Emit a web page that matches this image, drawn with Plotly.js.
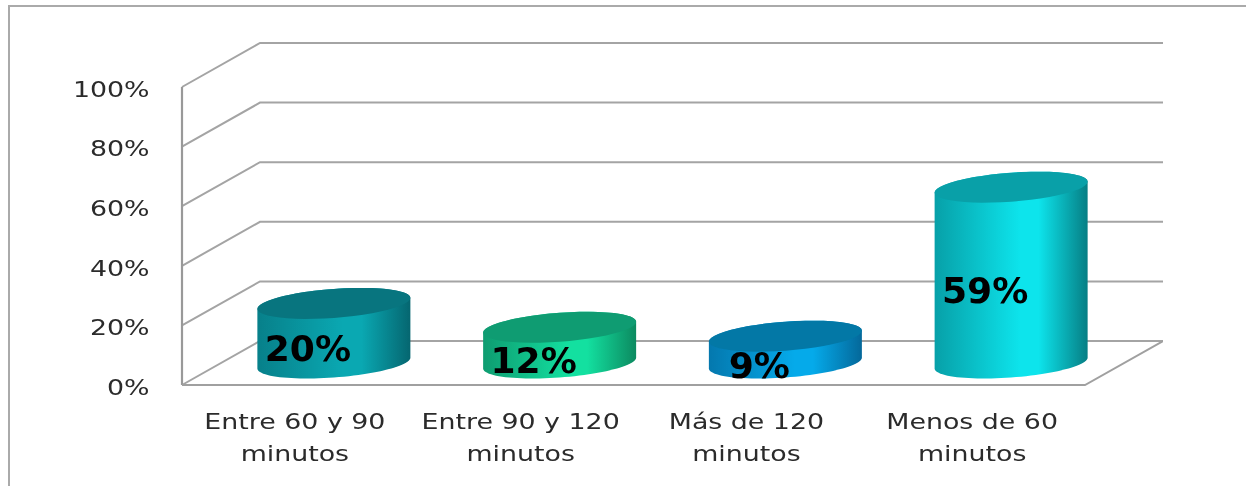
<!DOCTYPE html>
<html><head><meta charset="utf-8">
<script src="https://cdn.plot.ly/plotly-3.0.1.min.js"></script>
<style>
html,body{margin:0;padding:0;background:#fff;overflow:hidden}
#c{width:1246px;height:486px;filter:blur(0.5px)}
#c .xtick,#c .x2tick{transform-box:fill-box;transform-origin:center;transform:scaleX(1.22)}
#c .ytick{transform-box:fill-box;transform-origin:right center;transform:translateY(2px) scaleX(1.22)}
#c .textpoint{transform-box:fill-box;transform-origin:center;transform:scaleX(1.03)}
</style></head><body><div id="c"></div>
<script>
const categoryLine1 = ["Entre 60 y 90","Entre 90 y 120","Más de 120","Menos de 60"];
const categoryLine2 = ["minutos","minutos","minutos","minutos"];
const values = [20,12,9,59];
const yTicks = [0,20,40,60,80,100];
const leftColors  = ["#07808a","#0e9c70","#0478ae","#07a0a8"];
const peakColors  = ["#0aa8b2","#13e0a0","#05aaea","#0de4ec"];
const rightColors = ["#056670","#0c8a60","#04689a","#067e84"];
const capColors   = ["#08757f","#0f9c72","#0378a6","#09a0a8"];

// chart geometry, in axis units (1 category = 225.75px, 1% = 2.98px)
const depthX = 78/225.75, depthY = 44/2.98;
const halfW = 76.5/225.75, minor = 14.5/2.98, tilt = 5.5/2.98;
const gridColor = "#a4a4a4";

function arc(cx, cy, t0, t1){
  const xs=[], ys=[], n=48;
  for(let i=0;i<=n;i++){
    const t=t0+(t1-t0)*i/n;
    xs.push(cx+halfW*Math.cos(t));
    ys.push(cy+minor*Math.sin(t)+tilt*Math.cos(t));
  }
  return [xs,ys];
}
const traces=[];
function line(x,y,w,c){traces.push({x,y,mode:"lines",line:{color:c||gridColor,width:w||2},hoverinfo:"skip",showlegend:false});}
const xL=-0.5, xR=3.5;
// walls and gridlines
yTicks.forEach(v=>{ line([xL,xL+depthX,xR+depthX],[v,v+depthY,v+depthY]); });
line([xL,xL],[0,100],2.2,"#999999");
line([xL,xR,xR+depthX],[0,0,depthY],2,"#a0a0a0");
// cylinders
values.forEach((v,i)=>{
  const cx=i+depthX/2, base=depthY/2, top=base+v;
  const [bx,by]=arc(cx,base,Math.PI,2*Math.PI);
  const [tx,ty]=arc(cx,top,0,Math.PI);
  traces.push({x:bx.concat(tx),y:by.concat(ty),mode:"none",fill:"toself",hoverinfo:"skip",showlegend:false,
    fillgradient:{type:"horizontal",colorscale:[[0,leftColors[i]],[0.56,peakColors[i]],[0.68,peakColors[i]],[1,rightColors[i]]]}});
  const [ex,ey]=arc(cx,top,0,2*Math.PI);
  traces.push({x:ex,y:ey,mode:"none",fill:"toself",fillcolor:capColors[i],hoverinfo:"skip",showlegend:false});
});
// data labels
traces.push({xaxis:"x2",x:values.map((v,i)=>i+depthX/2-26/225.75),y:values.map(v=>v/2-2),
  text:values.map(v=>v+"%"),mode:"text",textposition:"middle center",
  textfont:{family:"DejaVu Sans",size:35,color:"#000",weight:"bold"},hoverinfo:"skip",showlegend:false});

const tickFont={family:"DejaVu Sans",size:22,color:"#2b2b2b"};
// the plot area runs 6px past the axes at left and bottom, 3px at the top, so the lines there are not clipped
const range=[xL-6/225.75,xR+depthX];
Plotly.newPlot("c",traces,{
  width:1246,height:486,paper_bgcolor:"#fff",plot_bgcolor:"rgba(0,0,0,0)",showlegend:false,
  margin:{l:176,r:83,t:40,b:95},
  xaxis:{range,tickmode:"array",tickvals:[0,1,2,3],ticktext:categoryLine1,showgrid:false,zeroline:false,showline:false,
    ticks:"outside",ticklen:11,tickcolor:"rgba(0,0,0,0)",tickfont:tickFont,fixedrange:true},
  xaxis2:{range,overlaying:"x",anchor:"y",side:"bottom",tickmode:"array",tickvals:[0,1,2,3],ticktext:categoryLine2,showgrid:false,zeroline:false,showline:false,
    ticks:"outside",ticklen:43,tickcolor:"rgba(0,0,0,0)",tickfont:tickFont,fixedrange:true},
  yaxis:{range:[-6/2.98,345/2.98],tickmode:"array",tickvals:yTicks,ticktext:yTicks.map(v=>v+"%"),showgrid:false,zeroline:false,showline:false,
    ticks:"outside",ticklen:21,tickcolor:"rgba(0,0,0,0)",tickfont:tickFont,fixedrange:true},
  shapes:[{type:"rect",xref:"paper",yref:"paper",x0:(9-176)/987,x1:(1260-176)/987,y0:(391-500)/351,y1:(391-6)/351,
    line:{color:"#aaaaaa",width:2},fillcolor:"rgba(0,0,0,0)",layer:"below"}]
},{displayModeBar:false,staticPlot:true});
</script></body></html>
